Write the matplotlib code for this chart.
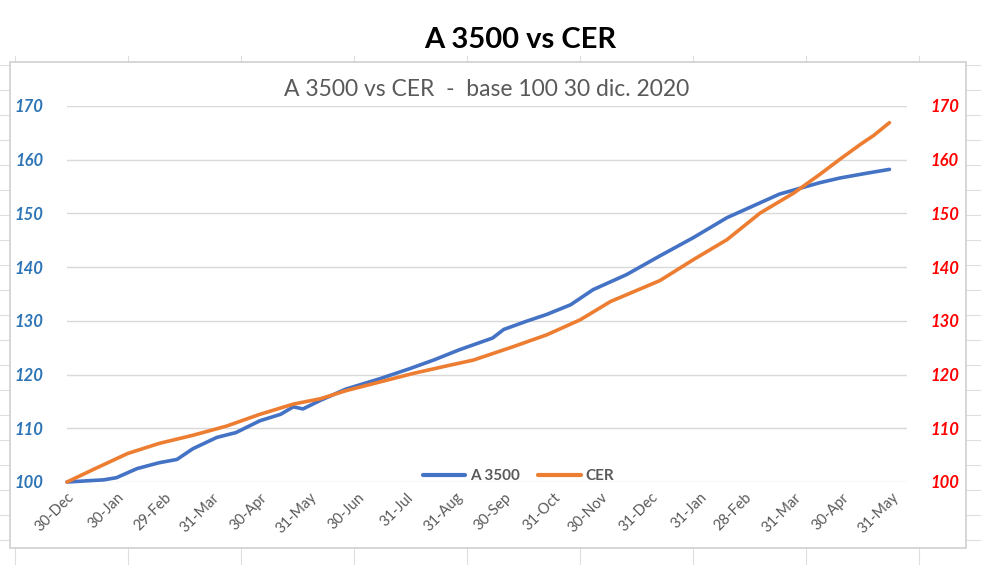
"""A 3500 vs CER, base 100 on 30 Dec 2020."""

import matplotlib
matplotlib.use("Agg")
import matplotlib.pyplot as plt
from matplotlib.patches import Rectangle

# days since 30-Dec-2020 and index level
a3500_days = [0, 23, 31, 44, 58, 69, 79, 94, 106, 121, 134, 142, 148, 159, 175,
              196, 215, 230, 246, 267, 274, 288, 301, 316, 330, 351, 372, 393,
              414, 435, 447, 472, 485, 502, 516]
a3500_vals = [100.0, 100.4, 100.8, 102.5, 103.6, 104.2, 106.2, 108.3, 109.2,
              111.4, 112.6, 114.0, 113.6, 115.2, 117.3, 119.2, 121.1, 122.7,
              124.6, 126.8, 128.4, 129.9, 131.2, 133.0, 135.8, 138.6, 142.1,
              145.5, 149.2, 152.0, 153.6, 155.7, 156.6, 157.5, 158.2]

cer_days = [0, 17, 38, 58, 79, 100, 121, 142, 159, 175, 196, 217, 238, 255,
            280, 301, 322, 341, 372, 393, 414, 435, 456, 472, 485, 498, 506, 516]
cer_vals = [100.0, 102.4, 105.3, 107.2, 108.7, 110.4, 112.6, 114.5, 115.5,
            117.0, 118.6, 120.2, 121.6, 122.7, 125.2, 127.4, 130.2, 133.6,
            137.5, 141.4, 145.1, 150.1, 153.8, 157.2, 160.1, 162.9, 164.5, 166.9]

tick_days = [0, 31, 61, 91, 121, 152, 182, 213, 244, 274, 305, 335, 366, 397,
             425, 456, 486, 517]
tick_labels = ["30-Dec", "30-Jan", "29-Feb", "31-Mar", "30-Apr", "31-May",
               "30-Jun", "31-Jul", "31-Aug", "30-Sep", "31-Oct", "30-Nov",
               "31-Dec", "31-Jan", "28-Feb", "31-Mar", "30-Apr", "31-May"]
y_ticks = [100, 110, 120, 130, 140, 150, 160, 170]

W, H = 981, 565
BLUE = "#4472C4"
ORANGE = "#ED7D31"
GREY = "#595959"
FONT = "Lato"

fig = plt.figure(figsize=(W / 100, H / 100), dpi=100)

# spreadsheet background (pixel coordinates)
bg = fig.add_axes([0, 0, 1, 1], zorder=0)
bg.set_xlim(0, W)
bg.set_ylim(H, 0)
bg.axis("off")
for cx in range(15, W, 113):
    bg.plot([cx, cx], [0, H], color="#dedede", lw=0.8, zorder=1)
for ry in range(15, H, 25):
    bg.plot([0, W], [ry, ry], color="#dedede", lw=0.8, zorder=1)
bg.add_patch(Rectangle((0, 0), W, 56, facecolor="white", edgecolor="none",
                       zorder=2))
bg.add_patch(Rectangle((10, 62), 956, 486, facecolor="white",
                       edgecolor="#d0d0d0", lw=1.2, zorder=3))

fig.text(520 / W, 1 - 40 / H, "A 3500 vs CER", ha="center", va="center",
         fontsize=21, fontweight="bold", family=FONT, color="black")

ax = fig.add_axes([67 / W, 1 - 482 / H, 840 / W, 376 / H], zorder=2)
ax.set_facecolor("none")
ax.plot(a3500_days, a3500_vals, color=BLUE, lw=2.6, label="A 3500",
        solid_capstyle="round", clip_on=False, zorder=3)
ax.plot(cer_days, cer_vals, color=ORANGE, lw=2.6, label="CER",
        solid_capstyle="round", clip_on=False, zorder=3)

ax.set_xlim(0, 527)
ax.set_ylim(100, 170)
ax.set_yticks(y_ticks)
ax.grid(axis="y", color="#d9d9d9", lw=1)
ax.set_axisbelow(True)
for s in ax.spines.values():
    s.set_visible(False)

ax.set_xticks(tick_days)
ax.set_xticklabels(tick_labels, rotation=45, ha="right", rotation_mode="anchor",
                   fontsize=10.5, color=GREY, family=FONT)
ax.tick_params(axis="x", length=0, pad=6)
ax.tick_params(axis="y", length=0, pad=17)
for lbl in ax.get_yticklabels():
    lbl.set_color("#2E75B6")
    lbl.set_fontweight("bold")
    lbl.set_fontstyle("italic")
    lbl.set_fontsize(12)
    lbl.set_family(FONT)

ax2 = ax.twinx()
ax2.set_ylim(100, 170)
ax2.set_yticks(y_ticks)
for s in ax2.spines.values():
    s.set_visible(False)
ax2.tick_params(axis="y", length=0, pad=17)
for lbl in ax2.get_yticklabels():
    lbl.set_color("#FF0000")
    lbl.set_fontweight("bold")
    lbl.set_fontstyle("italic")
    lbl.set_fontsize(12)
    lbl.set_family(FONT)

ax.set_title("A 3500 vs CER  -  base 100 30 dic. 2020", fontsize=16.5,
             color=GREY, family=FONT, pad=7)

leg = ax.legend(loc="center", bbox_to_anchor=(0.5375, 0.015), ncol=2,
                frameon=False, handlelength=2.8, handletextpad=0.3,
                columnspacing=1.2, prop={"family": FONT, "weight": "bold",
                                         "size": 11})
for t in leg.get_texts():
    t.set_color(GREY)
for h in leg.get_lines():
    h.set_linewidth(3)

fig.savefig("out.png", dpi=100)
